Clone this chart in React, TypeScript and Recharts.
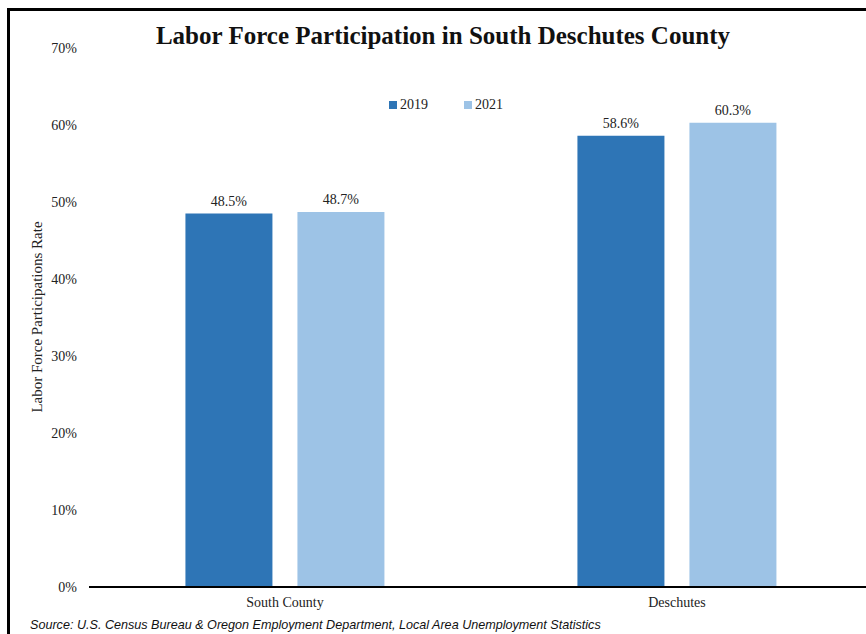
import React from 'react';
import { BarChart, Bar, XAxis, YAxis, LabelList } from 'recharts';

const regions = ['South County', 'Deschutes'];
const rate2019 = [48.5, 58.6];
const rate2021 = [48.7, 60.3];
const yTicks = [0, 10, 20, 30, 40, 50, 60, 70];

const DARK = '#2E75B6';
const LIGHT = '#9DC3E6';
const SERIF = '"Liberation Serif", "DejaVu Serif", serif';

const data = regions.map((name, i) => ({
  name,
  y2019: rate2019[i],
  y2021: rate2021[i]
}));

const fmt = (v: number) => `${v.toFixed(1)}%`;

const LegendBox = () => (
  <div style={{ position: 'absolute', left: 389, top: 97, display: 'flex', fontFamily: SERIF, fontSize: 14, color: '#222' }}>
    {[['2019', DARK], ['2021', LIGHT]].map(([label, color]) => (
      <div key={label} style={{ display: 'flex', alignItems: 'center', marginRight: 36 }}>
        <span style={{ display: 'inline-block', width: 8, height: 8, background: color, marginRight: 3 }} />
        <span>{label}</span>
      </div>
    ))}
  </div>
);

export default function App() {
  return (
    <div style={{ position: 'absolute', left: 0, top: 0, width: 866, height: 634, overflow: 'hidden', background: '#fff' }}>
      <style>{`.recharts-wrapper text { font-family: ${SERIF} !important; }`}</style>
      <div style={{ position: 'absolute', left: 7, top: 8, width: 900, height: 700, borderLeft: '3px solid #000', borderTop: '3px solid #000' }} />
      <div style={{ position: 'absolute', left: 0, top: 22, width: 886, textAlign: 'center', fontFamily: SERIF, fontWeight: 'bold', fontSize: 25, color: '#111' }}>
        Labor Force Participation in South Deschutes County
      </div>
      <div style={{ position: 'absolute', left: 0, top: 0 }}>
        <BarChart
          width={900}
          height={634}
          data={data}
          margin={{ top: 48, right: 27, left: 0, bottom: 0 }}
          barCategoryGap="24.6%"
          barGap={25}
        >
          <XAxis
            dataKey="name"
            height={47}
            axisLine={{ stroke: '#000', strokeWidth: 2 }}
            tickLine={false}
            tickMargin={4}
            tick={{ fill: '#222', fontSize: 14 }}
          />
          <YAxis
            width={89}
            domain={[0, 70]}
            ticks={yTicks}
            axisLine={false}
            tickLine={false}
            tickMargin={6}
            tickFormatter={(v) => `${v}%`}
            tick={{ fill: '#222', fontSize: 14 }}
            label={{
              content: () => (
                <text x={42} y={317} transform="rotate(-90 42 317)" textAnchor="middle" fill="#222" fontSize={15}>
                  Labor Force Participations Rate
                </text>
              )
            }}
          />
          <Bar dataKey="y2019" fill={DARK} isAnimationActive={false}>
            <LabelList dataKey="y2019" position="top" offset={8} formatter={fmt} fill="#222" fontSize={14} />
          </Bar>
          <Bar dataKey="y2021" fill={LIGHT} isAnimationActive={false}>
            <LabelList dataKey="y2021" position="top" offset={8} formatter={fmt} fill="#222" fontSize={14} />
          </Bar>
        </BarChart>
      </div>
      <LegendBox />
      <div style={{ position: 'absolute', left: 30, top: 618, fontFamily: '"Liberation Sans", Arial, sans-serif', fontStyle: 'italic', fontSize: 12.6, color: '#111' }}>
        Source: U.S. Census Bureau &amp; Oregon Employment Department, Local Area Unemployment Statistics
      </div>
    </div>
  );
}
